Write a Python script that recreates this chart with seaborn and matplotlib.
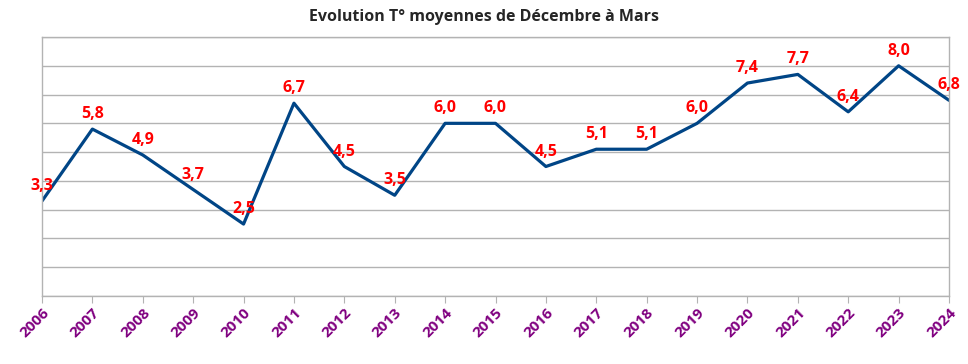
import matplotlib
matplotlib.use("Agg")
import matplotlib.pyplot as plt
import seaborn as sns
import pandas as pd

# data
years = list(range(2006, 2025))
temps = [3.3, 5.8, 4.9, 3.7, 2.5, 6.7, 4.5, 3.5, 6.0, 6.0, 4.5, 5.1, 5.1, 6.0, 7.4, 7.7, 6.4, 8.0, 6.8]
title = "Evolution T° moyennes de Décembre à Mars"

df = pd.DataFrame({"annee": years, "temp": temps})

sns.set_style("white")
plt.rcParams['font.family'] = ['Open Sans', 'DejaVu Sans']

fig = plt.figure(figsize=(9.68, 3.64), dpi=100)
ax = fig.add_axes([42 / 968, 1 - 296 / 364, (949 - 42) / 968, (296 - 37) / 364])

sns.lineplot(data=df, x="annee", y="temp", ax=ax, color="#004586", linewidth=2.3)

# data labels above each point
for x, y in zip(df["annee"], df["temp"]):
    ax.annotate(f"{y:.1f}".replace(".", ","), (x, y), xytext=(0, 5), textcoords="offset points",
                ha="center", va="bottom", color="#ff0000", fontsize=11.5, fontweight="bold")

ax.set_xlim(years[0], years[-1])
ax.set_ylim(0, 9)
ax.set_yticks(range(0, 10))
ax.set_yticklabels([])
ax.yaxis.grid(True, color="#b3b3b3", linewidth=1)
ax.set_xticks(years)
ax.set_xticklabels([str(y) for y in years], rotation=45, ha="right", rotation_mode="anchor",
                   color="#800080", fontweight="bold", fontsize=11)
ax.tick_params(axis="x", bottom=True, length=5, color="#b3b3b3", pad=2)
ax.tick_params(axis="y", left=False)
ax.set_xlabel("")
ax.set_ylabel("")
for side in ax.spines.values():
    side.set_color("#b3b3b3")
    side.set_linewidth(1)

fig.text(0.5, 1 - 17 / 364, title, ha="center", va="center", fontsize=11.5, fontweight="bold")

fig.savefig("out.png", dpi=100)
